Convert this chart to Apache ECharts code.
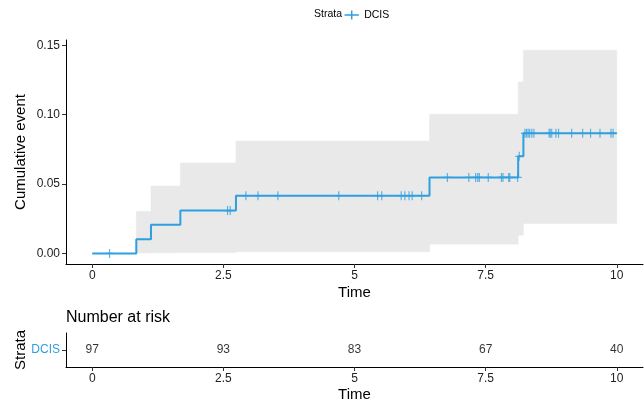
<!DOCTYPE html>
<html><head><meta charset="utf-8">
<script src="https://cdn.jsdelivr.net/npm/echarts@6/dist/echarts.min.js"></script>
<style>html,body{margin:0;padding:0;background:#fff}#c{width:644px;height:400px}</style>
</head><body><div id="c"></div>
<script>
// Step curve (cumulative event) at event times
const stepTimes = [0, 0.84, 1.12, 1.68, 2.74, 6.43, 8.12, 8.22, 10.0];
const cumEvent  = [0, 0.0103, 0.0206, 0.0309, 0.0416, 0.0548, 0.0700, 0.0866, 0.0866];
const upperCI   = [0, 0.0303, 0.0486, 0.0652, 0.0810, 0.1003, 0.1236, 0.1465, 0.1465];
const lowerCI   = [0, 0.0004, 0.0005, 0.0007, 0.0012, 0.0067, 0.0132, 0.0216, 0.0216];
// Censor times
const censorTimes = [0.33, 2.58, 2.63, 2.93, 3.16, 3.54, 4.70, 5.44, 5.52, 5.89, 5.96, 6.04, 6.10, 6.28,
  6.77, 7.18, 7.31, 7.35, 7.38, 7.55, 7.80, 7.83, 7.94, 7.96, 8.11, 8.14,
  8.25, 8.28, 8.31, 8.34, 8.38, 8.42, 8.71, 8.73, 8.76, 8.84, 8.89, 9.14, 9.35, 9.50, 9.68, 9.89, 9.93];
// Risk table
const riskTimes = [0, 2.5, 5, 7.5, 10];
const riskCounts = [97, 93, 83, 67, 40];
const strata = ['DCIS'];
const xTicks = [0, 2.5, 5, 7.5, 10];
const yTicks = [0, 0.05, 0.10, 0.15];

const COL = '#2E9FDF';
const FONT = 'Liberation Sans';
function valueAt(t){ let v = 0; for (let i=0;i<stepTimes.length;i++){ if (stepTimes[i] <= t) v = cumEvent[i]; } return v; }

const bandData = [];
for (let i=0;i<stepTimes.length-1;i++) bandData.push([stepTimes[i], stepTimes[i+1], lowerCI[i], upperCI[i]]);

const axisLine = {show:true, onZero:false, lineStyle:{color:'#000', width:1}};
const nameStyle = {fontFamily:FONT, fontSize:15, color:'#000'};

const chart = echarts.init(document.getElementById('c'), null, {renderer:'canvas'});
chart.setOption({
  animation:false,
  textStyle:{fontFamily:FONT},
  title:[
    {text:'Strata', left:314, top:9, padding:0, textStyle:{fontFamily:FONT, fontSize:10.5, fontWeight:'normal', color:'#000'}},
    {text:'Number at risk', left:66, top:310, padding:0, textStyle:{fontFamily:FONT, fontSize:16, fontWeight:'normal', color:'#000'}}
  ],
  legend:{
    data:[{name:'DCIS', icon:'path://M0,5L16,5M8,0L8,10'}],
    left:342, top:8, padding:0, itemWidth:15, itemHeight:9, itemGap:4,
    itemStyle:{color:'none', borderColor:COL, borderWidth:1.5},
    lineStyle:{color:COL, width:1.5},
    textStyle:{fontFamily:FONT, fontSize:10.5, color:'#000'}
  },
  grid:[
    {left:66, top:40, width:577, height:224, outerBoundsMode:'none', containLabel:false},
    {left:66, top:333, width:577, height:34, outerBoundsMode:'none', containLabel:false}
  ],
  xAxis:[
    {gridIndex:0, type:'value', min:-0.5, max:10.5, splitLine:{show:false}, axisLine:axisLine,
      name:'Time', nameLocation:'middle', nameGap:21, nameMoveOverlap:false, nameTextStyle:nameStyle,
      axisTick:{show:true, length:4, customValues:xTicks, lineStyle:{color:'#333'}},
      axisLabel:{customValues:xTicks, fontSize:12, color:'#222', margin:6, formatter:v=>String(v)}},
    {gridIndex:1, type:'value', min:-0.5, max:10.5, splitLine:{show:false}, axisLine:axisLine,
      name:'Time', nameLocation:'middle', nameGap:20, nameMoveOverlap:false, nameTextStyle:nameStyle,
      axisTick:{show:true, length:4, customValues:xTicks, lineStyle:{color:'#333'}},
      axisLabel:{customValues:xTicks, fontSize:12, color:'#222', margin:6, formatter:v=>String(v)}}
  ],
  yAxis:[
    {gridIndex:0, type:'value', min:-0.0076, max:0.1538, splitLine:{show:false}, axisLine:axisLine,
      name:'Cumulative event', nameLocation:'middle', nameGap:38, nameMoveOverlap:false, nameTextStyle:nameStyle,
      axisTick:{show:true, length:4, customValues:yTicks, lineStyle:{color:'#333'}},
      axisLabel:{customValues:yTicks, fontSize:12, color:'#222', margin:6, formatter:v=>v.toFixed(2)}},
    {gridIndex:1, type:'category', data:strata, splitLine:{show:false}, axisLine:axisLine,
      name:'Strata', nameLocation:'middle', nameGap:38, nameMoveOverlap:false, nameTextStyle:nameStyle,
      axisTick:{show:true, length:4, alignWithLabel:true, lineStyle:{color:'#333'}},
      axisLabel:{fontSize:12, color:COL, margin:6}}
  ],
  series:[
    {type:'custom', name:'band', xAxisIndex:0, yAxisIndex:0, data:bandData, encode:{x:[0,1], y:[2,3]}, silent:true, z:1,
      renderItem:function(params, api){
        const p1 = api.coord([api.value(0), api.value(3)]);
        const p2 = api.coord([api.value(1), api.value(2)]);
        return {type:'rect', shape:{x:p1[0], y:p1[1], width:p2[0]-p1[0], height:p2[1]-p1[1]},
          style:{fill:'#e9e9e9', stroke:'#e9e9e9', lineWidth:0.5}};
      }},
    {type:'line', name:'DCIS', xAxisIndex:0, yAxisIndex:0, step:'end', symbol:'none', z:3,
      data:stepTimes.map((t,i)=>[t, cumEvent[i]]), lineStyle:{color:COL, width:2}, itemStyle:{color:COL}},
    {type:'scatter', name:'censor', xAxisIndex:0, yAxisIndex:0, z:4,
      symbol:'path://M5,0L5,10M0,5L10,5', symbolSize:[8,9],
      data:censorTimes.map(t=>[t, valueAt(t)]),
      itemStyle:{color:'none', borderColor:COL, borderWidth:1.2}},
    {type:'scatter', name:'risk', xAxisIndex:1, yAxisIndex:1, symbolSize:0,
      data:riskTimes.map((t,i)=>[t, strata[0], riskCounts[i]]),
      label:{show:true, position:'inside', fontFamily:FONT, fontSize:12, color:'#000', formatter:p=>String(p.value[2])}}
  ]
});
</script></body></html>
